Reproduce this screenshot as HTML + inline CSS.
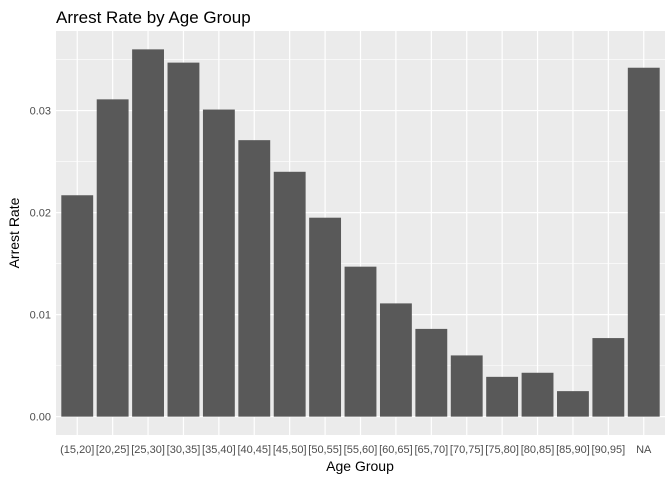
<!DOCTYPE html>
<html><head><meta charset="utf-8"><style>
body{margin:0;background:#fff;font-family:"Liberation Sans",sans-serif}
</style></head><body>
<svg id="chart" width="672" height="480" xmlns="http://www.w3.org/2000/svg">
<rect width="672" height="480" fill="#fff"/>
<text x="56" y="23" font-size="17" fill="#000">Arrest Rate by Age Group</text>
<rect id="panel" x="56" y="31" width="609" height="404" fill="#ebebeb"/>
<g id="grid"></g><g id="bars"></g><g id="axes"></g>
<text x="360" y="471" font-size="14" text-anchor="middle" fill="#000">Age Group</text>
<text transform="translate(19,233) rotate(-90)" font-size="14" text-anchor="middle" fill="#000">Arrest Rate</text>
</svg>
<script>
const categories=["(15,20]","[20,25]","[25,30]","[30,35]","[35,40]","[40,45]","[45,50]","[50,55]","[55,60]","[60,65]","[65,70]","[70,75]","[75,80]","[80,85]","[85,90]","[90,95]","NA"];
const values=[0.0217,0.0311,0.0360,0.0347,0.0301,0.0271,0.0240,0.0195,0.0147,0.0111,0.0086,0.0060,0.0039,0.0043,0.0025,0.0077,0.0342];
const yTicks=[0,0.01,0.02,0.03];
const yTickLabels=["0.00","0.01","0.02","0.03"];
const NS="http://www.w3.org/2000/svg";
const px0=56,pw=609,py0=31,ph=404;
const n=categories.length;
const step=pw/(n+0.2);
const xc=i=>px0+step*(0.6+i);
const ymax=Math.max(...values)*1.05, ymin=-Math.max(...values)*0.05;
const y=v=>py0+ph*(ymax-v)/(ymax-ymin);
function mk(tag,attrs,parent){const e=document.createElementNS(NS,tag);for(const k in attrs)e.setAttribute(k,attrs[k]);parent.appendChild(e);return e;}
const grid=document.getElementById('grid'),bars=document.getElementById('bars'),axes=document.getElementById('axes');
yTicks.forEach((t,i)=>{
 if(i<yTicks.length-1){const m=mk('line',{x1:px0,x2:px0+pw,y1:(y(t)+y(yTicks[i+1]))/2,y2:(y(t)+y(yTicks[i+1]))/2,stroke:'#fff','stroke-width':0.6},grid);
 
 }
 const g=mk('line',{x1:px0,x2:px0+pw,y1:y(t),y2:y(t),stroke:'#fff','stroke-width':1.2},grid);
 
 
 const tx=mk('text',{x:px0-5,y:y(t)+4,'font-size':11,'text-anchor':'end',fill:'#4d4d4d'},axes);
 tx.textContent=yTickLabels[i];
 
 
});
const mtop=y(0.035);
const m2=mk('line',{x1:px0,x2:px0+pw,y1:mtop,y2:mtop,stroke:'#fff','stroke-width':0.6},grid);


categories.forEach((c,i)=>{
 const g=mk('line',{x1:xc(i),x2:xc(i),y1:py0,y2:py0+ph,stroke:'#fff','stroke-width':1.2},grid);
 
 
 const bw=step*0.9;
 const r=mk('rect',{x:xc(i)-bw/2,y:y(values[i]),width:bw,height:y(0)-y(values[i]),fill:'#595959'},bars);
 
 
 const tx=mk('text',{x:xc(i),y:453,'font-size':11,'text-anchor':'middle',fill:'#4d4d4d'},axes);
 tx.textContent=c;
 
 
});
</script>
</body></html>
